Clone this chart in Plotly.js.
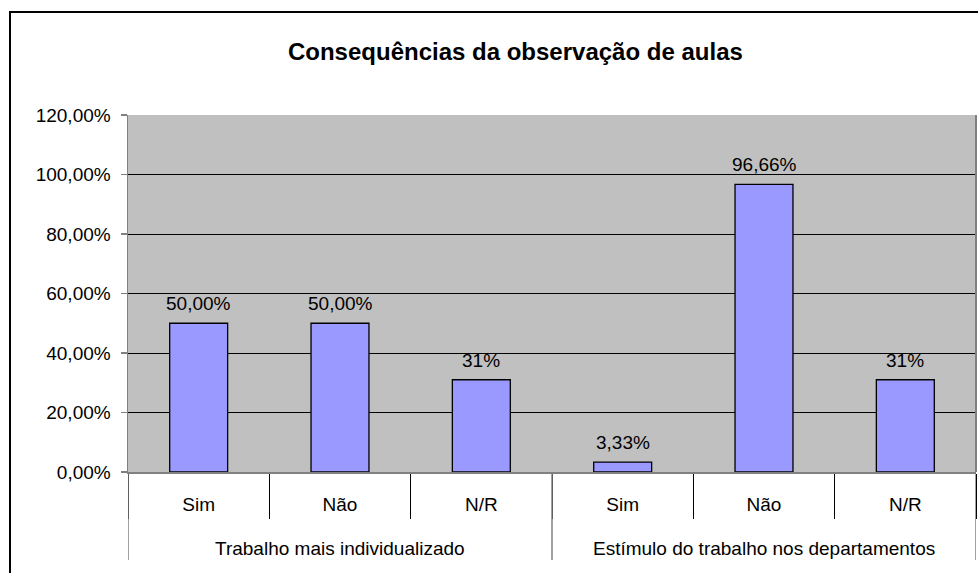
<!DOCTYPE html>
<html>
<head>
<meta charset="utf-8">
<script src="https://cdn.plot.ly/plotly-3.0.1.min.js"></script>
<style>
html,body{margin:0;padding:0;background:#fff;}
#chart{width:978px;height:573px;}
#frame{position:absolute;left:9px;top:11px;width:980px;height:580px;border-top:2px solid #000;border-left:2px solid #000;pointer-events:none;}
</style>
</head>
<body>
<div id="chart"></div>
<div id="frame"></div>
<script>
var groups = ['Trabalho mais individualizado','Trabalho mais individualizado','Trabalho mais individualizado',
              'Estímulo do trabalho nos departamentos','Estímulo do trabalho nos departamentos','Estímulo do trabalho nos departamentos'];
var answers = ['Sim','Não','N/R','Sim','Não','N/R'];
var values = [0.50, 0.50, 0.31, 0.0333, 0.9666, 0.31];
var labels = ['50,00%','50,00%','31%','3,33%','96,66%','31%'];
var yTicks = [0, 0.2, 0.4, 0.6, 0.8, 1.0, 1.2];

var font = 'Liberation Sans, Arial, sans-serif';
var idx = answers.map(function (_, i) { return i; });

// group spans derived from the groups array
var spans = [];
groups.forEach(function (g, i) {
  if (!spans.length || spans[spans.length - 1].name !== g) spans.push({name: g, start: i, end: i});
  else spans[spans.length - 1].end = i;
});

var annotations = [];
idx.forEach(function (i) {
  annotations.push({x: i, y: values[i], xref: 'x', yref: 'y', text: labels[i], showarrow: false,
    yanchor: 'bottom', xanchor: 'center', yshift: 7, font: {family: font, size: 19, color: '#000'}});
});
spans.forEach(function (s) {
  annotations.push({x: (s.start + s.end) / 2, y: 0, xref: 'x', yref: 'paper', text: s.name, showarrow: false,
    yanchor: 'middle', xanchor: 'center', yshift: -76, font: {family: font, size: 19, color: '#000'}});
});

var shapes = [];
var bounds = [spans[0].start - 0.5].concat(spans.map(function (s) { return s.end + 0.5; }));
bounds.forEach(function (b) {
  shapes.push({type: 'line', xref: 'x', yref: 'paper', x0: b, x1: b, y0: 0, y1: -0.2465,
    line: {color: '#808080', width: 1.5}});
});

var trace = {
  type: 'bar',
  x: idx,
  y: values,
  marker: {color: '#9999FF', line: {color: '#000', width: 1.3}},
  width: 0.41,
  hoverinfo: 'none'
};

var layout = {
  width: 978, height: 573,
  margin: {l: 128, r: 2, t: 115, b: 101},
  paper_bgcolor: '#fff',
  plot_bgcolor: '#C0C0C0',
  separators: ',.',
  showlegend: false,
  title: {text: '<b>Consequências da observação de aulas</b>', x: 0.527, xanchor: 'center', y: 0.91, yanchor: 'middle',
          font: {family: font, size: 24, color: '#000'}},
  font: {family: font, size: 19, color: '#000'},
  xaxis: {
    range: [-0.5, answers.length - 0.5],
    tickvals: idx, ticktext: answers,
    ticks: '',
    showline: true, linecolor: '#808080', linewidth: 1.5,
    minor: {tick0: 0.5, dtick: 1, ticks: 'outside', ticklen: 45, tickcolor: '#000', tickwidth: 1, showgrid: false},
    tickfont: {family: font, size: 19, color: '#000'},
    ticklabelstandoff: 15,
    showgrid: false, zeroline: false
  },
  yaxis: {
    range: [0, 1.2],
    tickvals: yTicks,
    tickformat: '.2%',
    ticks: 'outside', ticklen: 6, tickcolor: '#808080', tickwidth: 1.5,
    showline: true, linecolor: '#808080', linewidth: 1.5,
    showgrid: true, gridcolor: '#000', gridwidth: 1,
    zeroline: false,
    tickfont: {family: font, size: 19, color: '#000'},
    ticklabelstandoff: 6
  },
  annotations: annotations,
  shapes: shapes.concat([{type: 'line', xref: 'paper', yref: 'paper', x0: 1, x1: 1, y0: 0, y1: 1, line: {color: '#808080', width: 2}}])
};

Plotly.newPlot('chart', [trace], layout, {displayModeBar: false, staticPlot: true});
</script>
</body>
</html>
